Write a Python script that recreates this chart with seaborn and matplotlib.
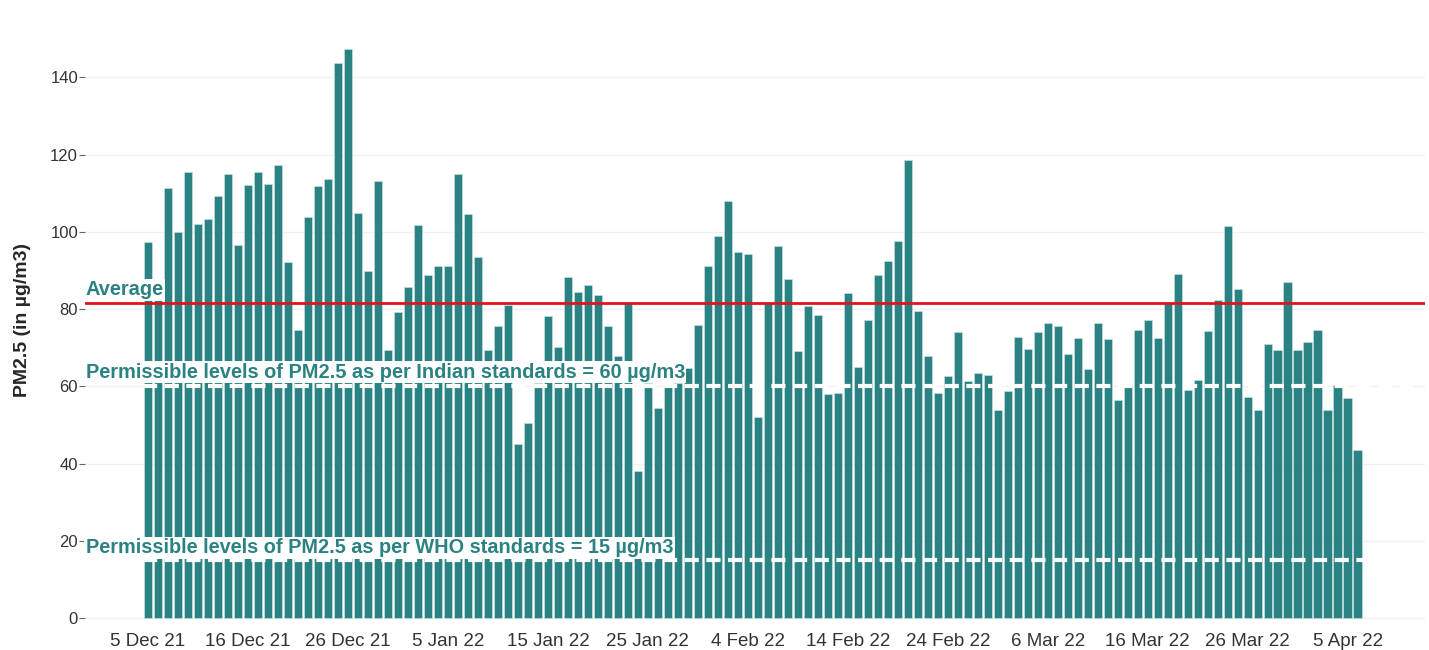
import pandas as pd
import seaborn as sns
import matplotlib.pyplot as plt

# Daily PM2.5 readings (in ug/m3), one bar per day
pm25 = [
    97.5, 85.0, 111.4, 100.0, 115.6, 102.1, 103.4, 109.2, 115.1, 96.5,
    112.1, 115.6, 112.4, 117.3, 92.1, 74.7, 103.8, 111.8, 113.7, 143.8,
    147.4, 104.9, 90.0, 113.1, 69.5, 79.2, 85.7, 101.7, 88.9, 91.1,
    91.3, 115.1, 104.7, 93.5, 69.5, 75.7, 81.2, 45.1, 50.5, 61.0,
    78.3, 70.1, 88.3, 84.4, 86.3, 83.6, 75.7, 68.0, 81.6, 38.2,
    61.0, 54.4, 60.0, 61.0, 64.7, 76.0, 91.1, 98.9, 108.0, 94.8,
    94.4, 52.0, 81.5, 96.3, 87.8, 69.2, 80.7, 78.4, 58.0, 58.3,
    84.2, 65.0, 77.3, 88.9, 92.4, 97.7, 118.5, 79.4, 67.8, 58.4,
    62.6, 74.0, 61.3, 63.6, 62.9, 53.9, 58.7, 72.9, 69.7, 74.2,
    76.4, 75.7, 68.4, 72.5, 64.6, 76.4, 72.3, 56.5, 60.2, 74.7,
    77.1, 72.5, 81.6, 89.1, 59.1, 61.7, 74.4, 82.3, 101.5, 85.3,
    57.4, 53.9, 71.0, 69.5, 87.0, 69.5, 71.5, 74.5, 53.9, 60.4,
    57.1, 43.6,
]
days = pd.date_range("2021-12-06", periods=len(pm25)).strftime("%d %b %y")

# x tick labels as printed on the chart, every 10th bar
tick_labels = ["5 Dec 21", "16 Dec 21", "26 Dec 21", "5 Jan 22", "15 Jan 22",
               "25 Jan 22", "4 Feb 22", "14 Feb 22", "24 Feb 22", "6 Mar 22",
               "16 Mar 22", "26 Mar 22", "5 Apr 22"]

average_level = 81.5
indian_limit = 60
who_limit = 15

df = pd.DataFrame({"day": days, "pm25": pm25})

sns.set_style("white")
plt.rcParams["font.family"] = ["Liberation Sans", "DejaVu Sans"]

teal = "#2a8282"

fig = plt.figure(figsize=(14.29, 6.5), dpi=100)
ax = fig.add_axes([0.0595, 0.038, 0.9375, 0.94])

sns.barplot(data=df, x="day", y="pm25", color=teal, saturation=1,
            width=0.85, edgecolor="#cfe6e6", linewidth=0.4, ax=ax)

# reference lines
ax.axhline(average_level, color="#e3121a", lw=2, zorder=4)
ax.hlines(indian_limit, -0.5, 126.5, colors="white", lw=3,
          linestyles=(0, (3.4, 1.8)), zorder=4)
ax.hlines(who_limit, -0.5, len(pm25) - 0.5, colors="white", lw=3,
          linestyles=(0, (3.4, 1.8)), zorder=4)

# labels for the lines
box = dict(facecolor="white", edgecolor="none", pad=1.0)
tr = ax.get_yaxis_transform()
ax.text(0.0005, 82.6, "Average", transform=tr, color=teal, fontsize=14.4,
        fontweight="bold", va="bottom", bbox=box, zorder=5)
ax.text(0.0005, 63.7, "Permissible levels of PM2.5 as per Indian standards = 60 \u00b5g/m3",
        transform=tr, color=teal, fontsize=14.4, fontweight="bold", va="center",
        bbox=box, zorder=5)
ax.text(0.0005, 18.3, "Permissible levels of PM2.5 as per WHO standards = 15 \u00b5g/m3",
        transform=tr, color=teal, fontsize=14.3, fontweight="bold", va="center",
        bbox=box, zorder=5)

ax.set_xlim(-6.3, 127.7)
ax.set_ylim(-1.8, 156.3)
ax.set_yticks(range(0, 141, 20))
ax.set_xticks(range(0, len(pm25), 10))
ax.set_xticklabels(tick_labels)
ax.yaxis.grid(True, color="#f0f0f0", lw=1)
ax.set_axisbelow(True)

ax.tick_params(axis="y", left=True, length=4, color="#666", labelsize=12,
               labelcolor="#333", pad=1)
ax.tick_params(axis="x", bottom=False, labelsize=13.5, labelcolor="#333", pad=2)
ax.set_xlabel("")
ax.set_ylabel("PM2.5 (in \u00b5g/m3)", fontsize=14, fontweight="bold", labelpad=14)
sns.despine(left=True, bottom=True)

plt.savefig("out.png", dpi=100)
